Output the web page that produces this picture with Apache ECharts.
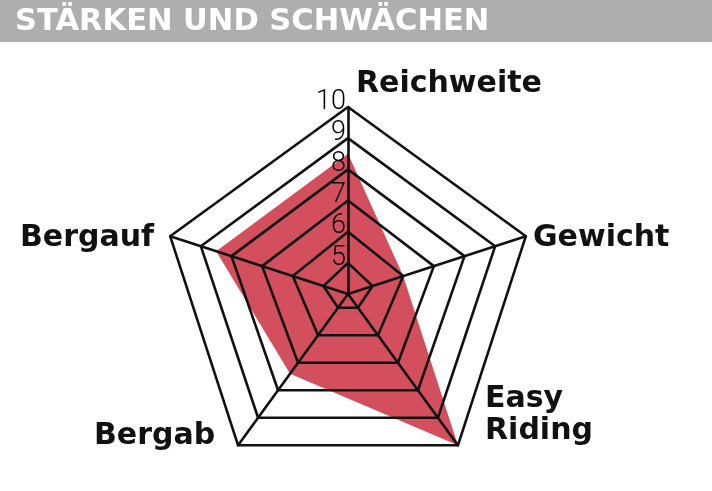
<!DOCTYPE html>
<html><head><meta charset="utf-8">
<script src="https://cdn.jsdelivr.net/npm/echarts@6/dist/echarts.min.js"></script>
<style>html,body{margin:0;padding:0;background:#fff}#c{width:712px;height:491px}</style>
</head><body><div id="c"></div>
<script>
// Data (radar indicators go counter-clockwise from the top)
const headerText = 'STÄRKEN UND SCHWÄCHEN';
const indicators = ['Reichweite', 'Bergauf', 'Bergab', 'Easy Riding', 'Gewicht'];
const axisMin = [4, 4.2, 4.5, 4.5, 4.2];
const axisMax = [10, 10, 10, 10, 10];
const scores = [8.5, 8.5, 7.4, 10, 6];
const ringValues = [5, 6, 7, 8, 9, 10];
const tickLabels = ['5', '6', '7', '8', '9', '10'];

const labelFont = 'DejaVu Sans';
const lineColor = '#111';
const redColor = '#D34F5D';

const chart = echarts.init(document.getElementById('c'), null, {renderer: 'canvas'});

const indicatorOpts = indicators.map((name, i) => {
  const o = {name: name, min: axisMin[i], max: axisMax[i]};
  if (i === 0) {
    o.axisLabel = {
      show: true,
      fontFamily: 'Roboto',
      fontWeight: 300,
      fontSize: 27,
      color: '#000',
      margin: 2,
      verticalAlign: 'bottom',
      lineHeight: 10,
      formatter: function (v) {
        const idx = ringValues.indexOf(Math.round(v));
        return idx >= 0 && Math.abs(v - ringValues[idx]) < 1e-6 ? tickLabels[idx] : '';
      }
    };
  }
  return o;
});

const ringSeries = ringValues.map(v => ({
  type: 'radar',
  z: 4,
  silent: true,
  symbol: 'none',
  lineStyle: {color: lineColor, width: 2.6},
  areaStyle: null,
  data: [{value: indicators.map(() => v)}]
}));

const nameTitle = (text, left, top) => ({
  text: text,
  left: left,
  top: top,
  padding: 0,
  textStyle: {fontFamily: labelFont, fontWeight: 'bold', fontSize: 30, color: '#111', lineHeight: 32}
});

chart.setOption({
  backgroundColor: '#fff',
  animation: false,
  graphic: [{
    type: 'rect', left: 0, top: 0, z: -10,
    shape: {width: 712, height: 42},
    style: {fill: '#AEAEAE'}
  }],
  title: [
    {text: headerText, left: 15, top: 7, padding: 0,
     textStyle: {fontFamily: labelFont, fontWeight: 'bold', fontSize: 30.5, color: '#fff'}},
    nameTitle(indicators[0], 356, 68),
    nameTitle(indicators[4], 533, 222),
    nameTitle('Easy\nRiding', 485, 383),
    nameTitle(indicators[2], 94, 420),
    nameTitle(indicators[1], 20, 222)
  ],
  radar: {
    center: [348, 294],
    radius: 187,
    startAngle: 90,
    splitNumber: 6,
    shape: 'polygon',
    z: 3,
    axisName: {show: false},
    axisLine: {show: true, lineStyle: {color: lineColor, width: 2.6}},
    splitLine: {show: false},
    splitArea: {show: false},
    axisTick: {show: false},
    axisLabel: {show: false},
    indicator: indicatorOpts
  },
  series: [{
    type: 'radar',
    z: 1,
    symbol: 'none',
    lineStyle: {width: 0, color: redColor},
    areaStyle: {color: redColor, opacity: 1},
    data: [{value: scores, name: 'Bewertung'}]
  }].concat(ringSeries)
});
</script>
</body></html>
